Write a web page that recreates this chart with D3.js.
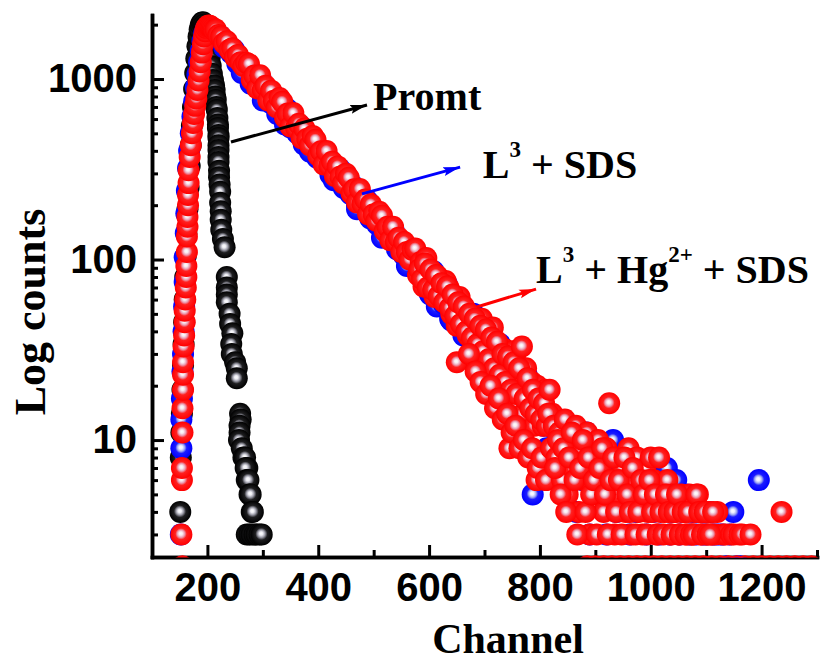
<!DOCTYPE html>
<html><head><meta charset="utf-8">
<script src="https://cdn.jsdelivr.net/npm/d3@7"></script>
<style>body{margin:0;background:#fff}text{white-space:pre}</style>
</head><body>
<svg id="c" width="834" height="662"></svg>
<script>
// ---------- data (channel, counts) ----------
const xMajor = [200,400,600,800,1000,1200];
const xMinor = [300,500,700,900,1100,1300];
const yMajor = [10,100,1000];
const yMinor = [3,4,5,6,7,8,9,20,30,40,50,60,70,80,90,200,300,400,500,600,700,800,900,2000];

const promt = [[151,4],[152,8],[153,11],[154,14],[155,19],[156,26],[157,34],[158,45],[159,60],[160,80],[161,105],[162,140],[164,190],[166,250],[168,330],[170,430],[172,550],[174,700],[176,880],[178,1080],[180,1300],[182,1520],[184,1720],[186,1880],[188,1990],[190,2050],[192,2060],[194,2000],[196,1950],[198,1800],[200,1620],[202,1450],[204,1300],[206,1180],[208,1070],[210,986],[212,920],[213,869],[214,800],[215,766],[216,700],[217,674],[218,608],[219,560],[219,535],[220,490],[220,471],[220,430],[220,404],[220,370],[220,347],[221,310],[221,286],[222,260],[223,237],[223,206],[224,185],[224,166],[225,146],[228,130],[231,117],[235,80],[235,70],[235,64],[235,58],[240,50],[241,44],[245,39],[243,34],[244,30],[250,27],[253,25],[253,22],[259,14],[260,13],[258,12],[258,11],[257,10],[262,9],[265,8],[268,8],[272,7],[269,7],[271,6],[274,6],[276,5],[278,5],[280,4],[282,4],[271,3],[276,3],[280,3],[285,3],[289,3],[294,3],[298,3]];

const blueRise = [[152,3],[153,9],[153,13],[154,17],[155,24],[156,30],[157,40],[158,55],[159,75],[159,103],[161,140],[162,180],[163,240],[165,320],[167,400],[170,500],[173,620],[176,750],[179,900],[182,1060],[185,1240],[188,1430],[191,1620],[194,1780],[197,1880],[200,1930],[204,1940],[208,1900],[212,1850]];
const blueDecay = [[218,1700],[224,1720],[230,1500],[236,1530],[242,1400],[248,1450],[254,1220],[260,1266],[266,1085],[272,1195],[278,942],[284,1022],[290,924],[296,1004],[302,794],[308,860],[314,737],[320,812],[326,640],[332,695],[338,628],[344,682],[350,539],[356,584],[362,501],[368,551],[374,434],[380,471],[386,427],[392,463],[398,366],[404,397],[410,340],[416,374],[422,295],[428,320],[434,289],[440,315],[446,249],[452,269],[458,231],[464,254],[470,200],[476,218],[482,196],[488,213],[494,169],[500,183],[506,157],[512,173],[518,136],[524,148],[530,134],[536,145],[542,114],[548,124],[554,106],[560,118],[566,92],[572,100],[578,91],[584,99],[590,78],[596,84],[602,64],[608,86],[614,55],[620,70],[626,57],[632,73],[638,47],[644,61],[650,44],[656,58],[662,38],[668,47],[674,39],[680,50],[686,32],[692,41],[698,30],[704,40],[710,26],[716,32],[722,26],[728,34],[734,22],[740,28],[746,20],[752,27],[758,17],[764,22],[770,18],[776,23],[782,15],[787,5],[788,19],[794,14],[800,18]];
const blueEdge = [[262,1080],[300,760],[340,560],[385,395],[428,275],[470,190],[515,132],[560,92],[600,66],[640,46],[700,29],[745,19],[772,13]];
const blueTail = [[806,12],[812,9],[818,14],[824,7],[830,11],[836,6],[842,10],[848,5],[854,12],[860,8],[866,4],[872,9],[878,6],[884,11],[890,3],[896,7],[902,9],[908,5],[914,8],[920,3],[926,6],[932,10],[938,4],[944,7],[950,5],[956,8],[962,3],[968,6],[974,4],[980,7],[986,5],[992,3],[998,6],[1004,4],[1010,7],[1016,3],[1022,5],[1029,7],[1034,3],[1040,4],[1046,6],[1052,3],[1058,4],[1064,5],[1070,3],[1076,4],[1082,3],[1088,4],[1094,3],[1100,3],[1106,4],[1112,3],[1118,3],[1124,3],[1130,3],[1136,2],[1142,3],[1149,4],[1155,2],[1162,2],[1195,6]];

const redRise = [[153,3],[154,6],[154,7],[155,11],[155,15],[156,19],[156,23],[156,27],[157,33],[158,38],[159,45],[159,52],[160,60],[161,70],[162,80],[162,92],[163,110],[163,134],[164,152],[164,172],[165,200],[165,228],[166,265],[166,312],[168,370],[170,430],[172,500],[174,570],[176,640],[178,710],[180,780],[182,870],[184,980],[186,1100],[188,1240],[190,1400],[192,1560],[194,1720],[196,1840],[198,1920],[200,1960],[202,1980],[204,1970],[206,1950],[208,1930],[210,1900],[212,1870]];
const redDecay = [[215,1880],[220,1750],[225,1720],[230,1580],[235,1620],[240,1450],[245,1480],[250,1320],[255,1360],[260,1240],[265,1180],[270,1230],[275,1212],[280,992],[285,1045],[290,885],[295,1050],[300,871],[305,916],[310,761],[315,862],[320,758],[325,698],[330,785],[335,747],[340,612],[345,644],[350,546],[355,648],[360,538],[365,565],[370,470],[375,531],[380,467],[385,430],[390,484],[395,461],[400,377],[405,398],[410,336],[415,399],[420,332],[425,348],[430,290],[435,328],[440,288],[445,265],[450,299],[455,284],[460,233],[465,245],[470,207],[475,246],[480,204],[485,215],[490,178],[495,202],[500,178],[505,164],[510,184],[515,175],[520,144],[525,152],[530,128],[535,152],[540,126],[545,132],[550,110],[555,125],[560,110],[565,100],[570,113],[575,115],[580,82],[585,97],[590,71],[595,102],[600,75],[605,86],[610,62],[615,81],[620,66],[625,59],[630,76],[635,70],[640,50],[645,60],[650,43],[655,62],[660,46],[665,53],[670,38],[675,49],[680,41],[685,36],[690,46],[695,47],[700,27],[705,38],[710,23],[715,42],[720,26],[725,33],[730,20],[735,32],[740,23],[745,20],[750,31],[755,29],[760,16],[765,23],[770,14],[775,25],[780,16],[785,21],[790,12],[795,20],[800,14],[805,12],[810,19]];
const redMid = [[582.5,88],[587.5,78],[592.5,95],[597.5,70],[602.5,88],[607.5,68],[612.5,82],[617.5,63],[622.5,74],[627.5,58],[632.5,71],[637.5,54],[642.5,64],[647.5,49],[650,27],[652.5,58],[657.5,44],[662.5,55],[667.5,40],[672.5,50],[677.5,37],[682.5,47],[687.5,34],[692.5,43],[697.5,31],[702.5,41],[707.5,28],[712.5,37],[717.5,25],[722.5,35],[727.5,23],[732.5,30],[737.5,21],[742.5,29],[745,9],[747.5,19],[752.5,27],[757.5,18],[762.5,25],[767.5,33],[772.5,17],[777.5,22],[782.5,15],[787.5,19],[792.5,14],[794,6],[797.5,17],[802.5,13],[807.5,16],[812.5,12],[817.5,19],[822.5,14]];
const redLowEdge = [[672,30],[684,24],[693,21],[703,18],[711,20],[719,15],[726,17],[733,13],[741,14],[749,11],[756,12],[763,9],[771,10],[779,8],[786,9],[796,7],[803,8],[811,6]];
const redTail = [[815,14],[820,9],[825,12],[830,8],[835,11],[840,6],[845,13],[850,5],[855,10],[860,7],[865,12],[870,4],[875,9],[880,6],[885,11],[890,3],[895,8],[900,5],[905,10],[910,7],[915,4],[920,9],[925,16],[930,6],[935,3],[940,8],[945,5],[950,7],[955,4],[960,9],[965,3],[970,6],[975,8],[980,5],[985,3],[990,7],[995,4],[1000,8],[1005,6],[1010,3],[1015,8],[1020,5],[1025,4],[1030,6],[1035,3],[1040,5],[1045,4],[1050,3],[1055,5],[1060,4],[1065,3],[1070,5],[1075,3],[1080,4],[1085,5],[1090,3],[1095,4],[1100,3],[1105,4],[1110,3],[1115,3],[1120,4],[1130,3],[1135,3],[1145,3],[1150,3],[1160,3],[1165,3],[1180,3],[1236,4],
[827.5,7],[832.5,10],[837.5,5],[842.5,9],[847.5,4],[852.5,8],[857.5,11],[862.5,6],[867.5,3],[872.5,7],[877.5,10],[882.5,4],[887.5,8],[892.5,5],[897.5,6],[902.5,3],[907.5,7],[912.5,9],[917.5,5],[922.5,3],[927.5,6],[932.5,8],[937.5,4],[942.5,6],[947.5,3],[952.5,8],[957.5,5],[962.5,4],[967.5,7],[972.5,3],[977.5,4],[982.5,6],[987.5,5],[992.5,3],[997.5,6],[1002.5,4],[1007.5,5],[1012.5,3],[1017.5,4],[1022.5,3],[1027.5,5],[1032.5,4],[1037.5,3],[1042.5,4],[1047.5,5],[1052.5,3],[1057.5,4],[1062.5,3],[1067.5,4],[1072.5,3],[1077.5,3],[1082.5,5],[1087.5,4],[1092.5,3],[1097.5,4],[1102.5,3],[1107.5,3],[1112.5,4]];
const redLow = [[155,2],[885,2],[900,2],[915,2],[930,2],[945,2],[960,2],[975,2],[990,2],[1005,2],[1020,2],[1035,2],[1050,2],[1065,2],[1080,2],[1095,2],[1110,2],[1125,2],[1140,2],[1155,2],[1170,2],[1185,2],[1200,2],[1215,2],[1230,2],[1245,2],[1260,2],[1275,2],[1290,2]];

// annotations: text position and arrow ends in (channel, counts)
const notes = [
  {parts:[["Promt",0]], at:[499,673], from:[242.5,448], to:[488,718], color:"#000"},
  {parts:[["L",0],["3",1],[" + SDS",0]], at:[697,283], from:[479,231], to:[656,325], color:"#0000ff"},
  {parts:[["L",0],["3",1],[" + Hg",0],["2+",1],[" + SDS",0]], at:[793,74], from:[686,54.6], to:[793,68.6], color:"#ff0000"}
];

// ---------- chart ----------
const svg = d3.select("#c");
const x = d3.scaleLinear().domain([100,1300]).range([152,817]);
const y = d3.scaleLog().domain([2.25,2262]).range([557,15]);
const R = 11;

const defs = svg.append("defs");
function grad(id, stops){
  const g = defs.append("radialGradient").attr("id",id)
    .attr("cx","50%").attr("cy","50%").attr("r","50%").attr("fx","47%").attr("fy","45%");
  stops.forEach(s => g.append("stop").attr("offset",s[0]).attr("stop-color",s[1]));
}
grad("gRed",[[0,"#ffffff"],[0.16,"#f8eaf0"],[0.34,"#ea9cb2"],[0.52,"#ff2020"],[1,"#ff0000"]]);
grad("gBlue",[[0,"#ffffff"],[0.16,"#eef0ff"],[0.34,"#9ea8f2"],[0.52,"#1c1cff"],[1,"#0000ff"]]);
grad("gBlack",[[0,"#ffffff"],[0.16,"#ececf2"],[0.34,"#9a9aa6"],[0.55,"#1e1e20"],[1,"#000000"]]);
defs.append("clipPath").attr("id","clip").append("rect")
  .attr("x",0).attr("y",0).attr("width",834).attr("height",557.5);
notes.forEach((n,i)=>{
  defs.append("marker").attr("id","arr"+i).attr("markerUnits","userSpaceOnUse")
    .attr("markerWidth",18).attr("markerHeight",10).attr("refX",17).attr("refY",5)
    .attr("orient","auto")
    .append("path").attr("d","M0,0.5 L17,5 L0,9.5 L3,5 Z").attr("fill",n.color);
});

const tickFont = g => {
  g.selectAll("text").attr("font-family","'Liberation Sans',Arial,sans-serif")
   .attr("font-weight","bold").attr("font-size",40).attr("fill","#000");
  g.selectAll(".tick line").attr("stroke","#000").attr("stroke-width",3);
  g.select(".domain").attr("stroke","#000").attr("stroke-width",3.5).attr("stroke-linecap","square");
};

// axes
svg.append("g").attr("transform","translate(152,0)")
  .call(d3.axisLeft(y).tickValues(yMinor).tickSize(-6).tickSizeOuter(0).tickFormat(""))
  .call(tickFont);
svg.append("g").attr("transform","translate(152,0)")
  .call(d3.axisLeft(y).tickValues(yMajor).tickSize(-12).tickSizeOuter(0).tickPadding(15).tickFormat(d3.format("d")))
  .call(tickFont);
svg.append("g").attr("transform","translate(0,557)")
  .call(d3.axisBottom(x).tickValues(xMinor).tickSize(-7).tickSizeOuter(0).tickFormat(""))
  .call(tickFont);
svg.append("g").attr("transform","translate(0,557)")
  .call(d3.axisBottom(x).tickValues(xMajor).tickSize(-12).tickSizeOuter(0).tickPadding(16).tickFormat(d3.format("d")))
  .call(tickFont);

// points
const plot = svg.append("g").attr("clip-path","url(#clip)");
function series(data, fill){
  plot.append("g").selectAll("circle").data(data).join("circle")
    .attr("cx", d => x(d[0])).attr("cy", d => y(d[1])).attr("r", R)
    .attr("fill", fill);
}
series(promt, "url(#gBlack)");
series(blueRise.concat(blueDecay, blueEdge, blueTail), "url(#gBlue)");
series(redLow.concat(redRise, redDecay, redMid, redLowEdge, redTail), "url(#gRed)");

// axis titles
const serif = "'Liberation Serif','Times New Roman',serif";
svg.append("text").attr("transform","translate(45,312) rotate(-90)")
  .attr("text-anchor","middle").attr("font-family",serif).attr("font-weight","bold")
  .attr("font-size",44).text("Log counts");
svg.append("text").attr("x",508).attr("y",653)
  .attr("text-anchor","middle").attr("font-family",serif).attr("font-weight","bold")
  .attr("font-size",42).text("Channel");

// annotations
notes.forEach((n,i)=>{
  svg.append("line")
    .attr("x1",x(n.from[0])).attr("y1",y(n.from[1]))
    .attr("x2",x(n.to[0])).attr("y2",y(n.to[1]))
    .attr("stroke",n.color).attr("stroke-width",3).attr("marker-end","url(#arr"+i+")");
  const t = svg.append("text").attr("x",x(n.at[0])).attr("y",y(n.at[1]))
    .attr("font-family",serif).attr("font-weight","bold").attr("font-size",40).attr("fill","#000");
  let up = false;
  n.parts.forEach(p=>{
    const ts = t.append("tspan").text(p[0]);
    if(p[1] && !up){ ts.attr("dy",-21).attr("font-size",23); up = true; }
    else if(p[1]){ ts.attr("font-size",23); }
    else if(up){ ts.attr("dy",21); up = false; }
  });
});
</script>
</body></html>
